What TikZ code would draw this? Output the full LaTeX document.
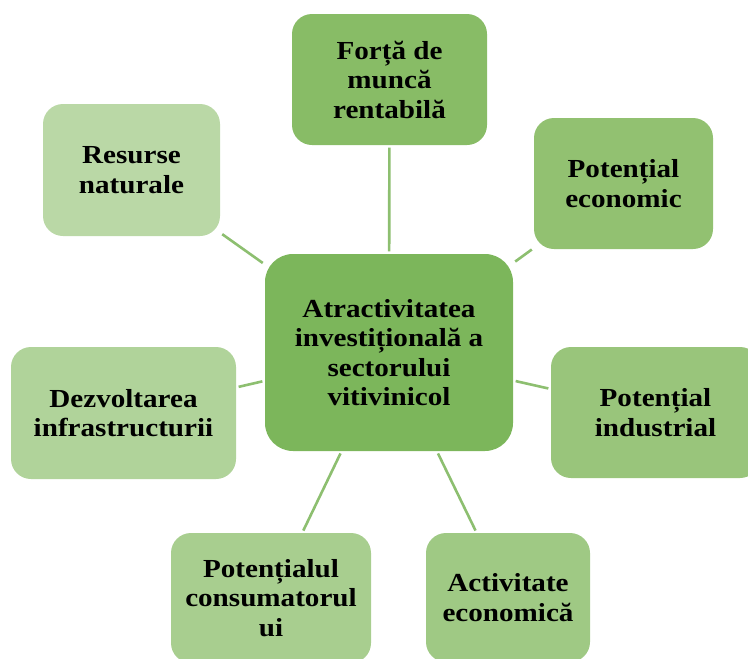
\documentclass[tikz,border=0pt]{standalone}
\usepackage{fontspec}
\setmainfont{Liberation Serif}
\newfontfamily\boxfont[FakeStretch=1.12]{Liberation Serif}
\definecolor{cCenter}{HTML}{7CB65B}
\definecolor{cTop}{HTML}{88BC66}
\definecolor{cTR}{HTML}{92C171}
\definecolor{cRight}{HTML}{99C57B}
\definecolor{cBR}{HTML}{9FC984}
\definecolor{cBL}{HTML}{A8CE8F}
\definecolor{cLeft}{HTML}{B0D39A}
\definecolor{cTL}{HTML}{BAD8A6}
\definecolor{cLine}{HTML}{8DBF70}
\tikzset{
  x=1pt, y=-1pt,
  box/.style={rectangle, rounded corners=20pt, inner sep=0pt, align=center,
    font=\boxfont\fontsize{26}{29.5}\selectfont\bfseries, text=black},
  link/.style={draw=cLine, line width=2.6pt, shorten <=2.5pt, shorten >=2.5pt}
}
\begin{document}
\begin{tikzpicture}
\useasboundingbox (0,0) rectangle (748,659);
\clip (0,0) rectangle (748,659);
\node[box, fill=cCenter, rounded corners=28pt, minimum width=248pt, minimum height=197pt] (c) at (389,352.5)
  {Atractivitatea\\investițională a\\sectorului\\vitivinicol};
\node[box, fill=cTop, minimum width=195pt, minimum height=131pt] (t) at (389.5,79.5)
  {Forță de\\muncă\\rentabilă};
\node[box, fill=cTR, minimum width=179pt, minimum height=131pt] (tr) at (623.5,183.5)
  {Potențial\\economic};
\node[box, fill=cTL, minimum width=177pt, minimum height=132pt] (tl) at (131.5,170)
  {Resurse\\naturale};
\node[box, fill=cLeft, minimum width=225pt, minimum height=132pt] (l) at (123.5,413)
  {Dezvoltarea\\infrastructurii};
\node[box, fill=cRight, minimum width=209pt, minimum height=131pt] (r) at (655.5,412.5)
  {Potențial\\industrial};
\node[box, fill=cBL, minimum width=200pt, minimum height=130pt] (bl) at (271,598)
  {Potențialul\\consumatorul\\ui};
\node[box, fill=cBR, minimum width=164pt, minimum height=129pt] (br) at (508,597.5)
  {Activitate\\economică};
\draw[link] (c) -- (t);
\draw[link] (c) -- (tr);
\draw[link] (c) -- (tl);
\draw[link] (c) -- (l);
\draw[link] (c) -- (r);
\draw[link] (c) -- (bl);
\draw[link] (c) -- (br);
\end{tikzpicture}
\end{document}
